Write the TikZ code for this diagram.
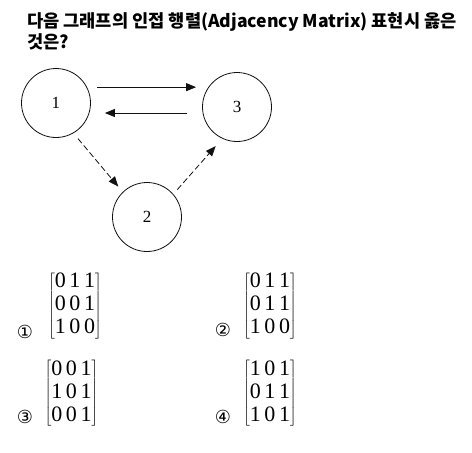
\documentclass[tikz,border=0pt]{standalone}
\usepackage{fontspec}
\usepackage{tikz}
\usetikzlibrary{arrows.meta,positioning}
\newfontfamily\kofont{Noto Sans CJK KR}
\newfontfamily\symfont{DejaVu Sans}
\newfontfamily\numfont{Liberation Serif}
\definecolor{ink}{HTML}{111111}

\begin{document}
\begin{tikzpicture}[x=1pt,y=-1pt,
  vertex/.style={circle,draw=ink,line width=0.8pt,minimum size=69pt,inner sep=0pt,
    font=\numfont\fontsize{17}{17}\selectfont},
  arr/.style={-{Triangle[length=10pt,width=8pt]},draw=ink,line width=0.8pt},
  darr/.style={arr,dash pattern=on 6pt off 3pt},
  choice/.style={font=\symfont\fontsize{18}{18}\selectfont,inner sep=0pt},
  mat/.style={font=\numfont\fontsize{22}{23}\selectfont,inner sep=0pt}]
  \useasboundingbox[fill=white] (0,0) rectangle (472,453);

  % Question text.
  \node[font=\kofont\bfseries\fontsize{17.6}{21}\selectfont,anchor=north west,
    align=left,inner sep=0pt] (question) at (27,12)
    {다음 그래프의 인접 행렬(Adjacency Matrix) 표현시 옳은\\것은?};

  % Graph: three vertices.
  \node[vertex] (n1) at (56,103) {1};
  \node[vertex] (n2) at (147,217) {2};
  \node[vertex] (n3) at (237,107) {3};

  % 1 -> 3 on top, 3 -> 1 below.
  \path (n1.27 -| n3.west) coordinate (topend);
  \draw[arr] ([xshift=10pt]n1.27) -- ([xshift=-6pt]topend);
  \path ([xshift=-15pt,yshift=-6pt]n3.west) coordinate (lowstart);
  \path (lowstart -| n1.east) coordinate (lowend);
  \draw[arr] (lowstart) -- ([xshift=14pt]lowend);

  % Dashed edges through vertex 2.
  \draw[darr,shorten <=7pt,shorten >=7pt] (n1.-60) -- (n2.134);
  \draw[darr,shorten <=6pt,shorten >=10pt] (n2.41) -- (n3.-115);

  % Answer choices.
  \setlength{\tabcolsep}{1.8pt}
  \newcommand{\choicemat}[6]{%
    \node[choice] (#1sym) at (#2,#3) {#4};
    \node[mat] (#1mat) at (#5)
      {$\left[\begin{tabular}{@{}ccc@{}}#6\end{tabular}\right]$};
  }
  \choicemat{a}{25}{332}{①}{75,306}{0&1&1\\0&0&1\\1&0&0}
  \choicemat{b}{223}{330}{②}{270,306}{0&1&1\\0&1&1\\1&0&0}
  \choicemat{c}{25}{417}{③}{71.5,393.5}{0&0&1\\1&0&1\\0&0&1}
  \choicemat{d}{223}{417}{④}{270,393.5}{1&0&1\\0&1&1\\1&0&1}
\end{tikzpicture}
\end{document}
